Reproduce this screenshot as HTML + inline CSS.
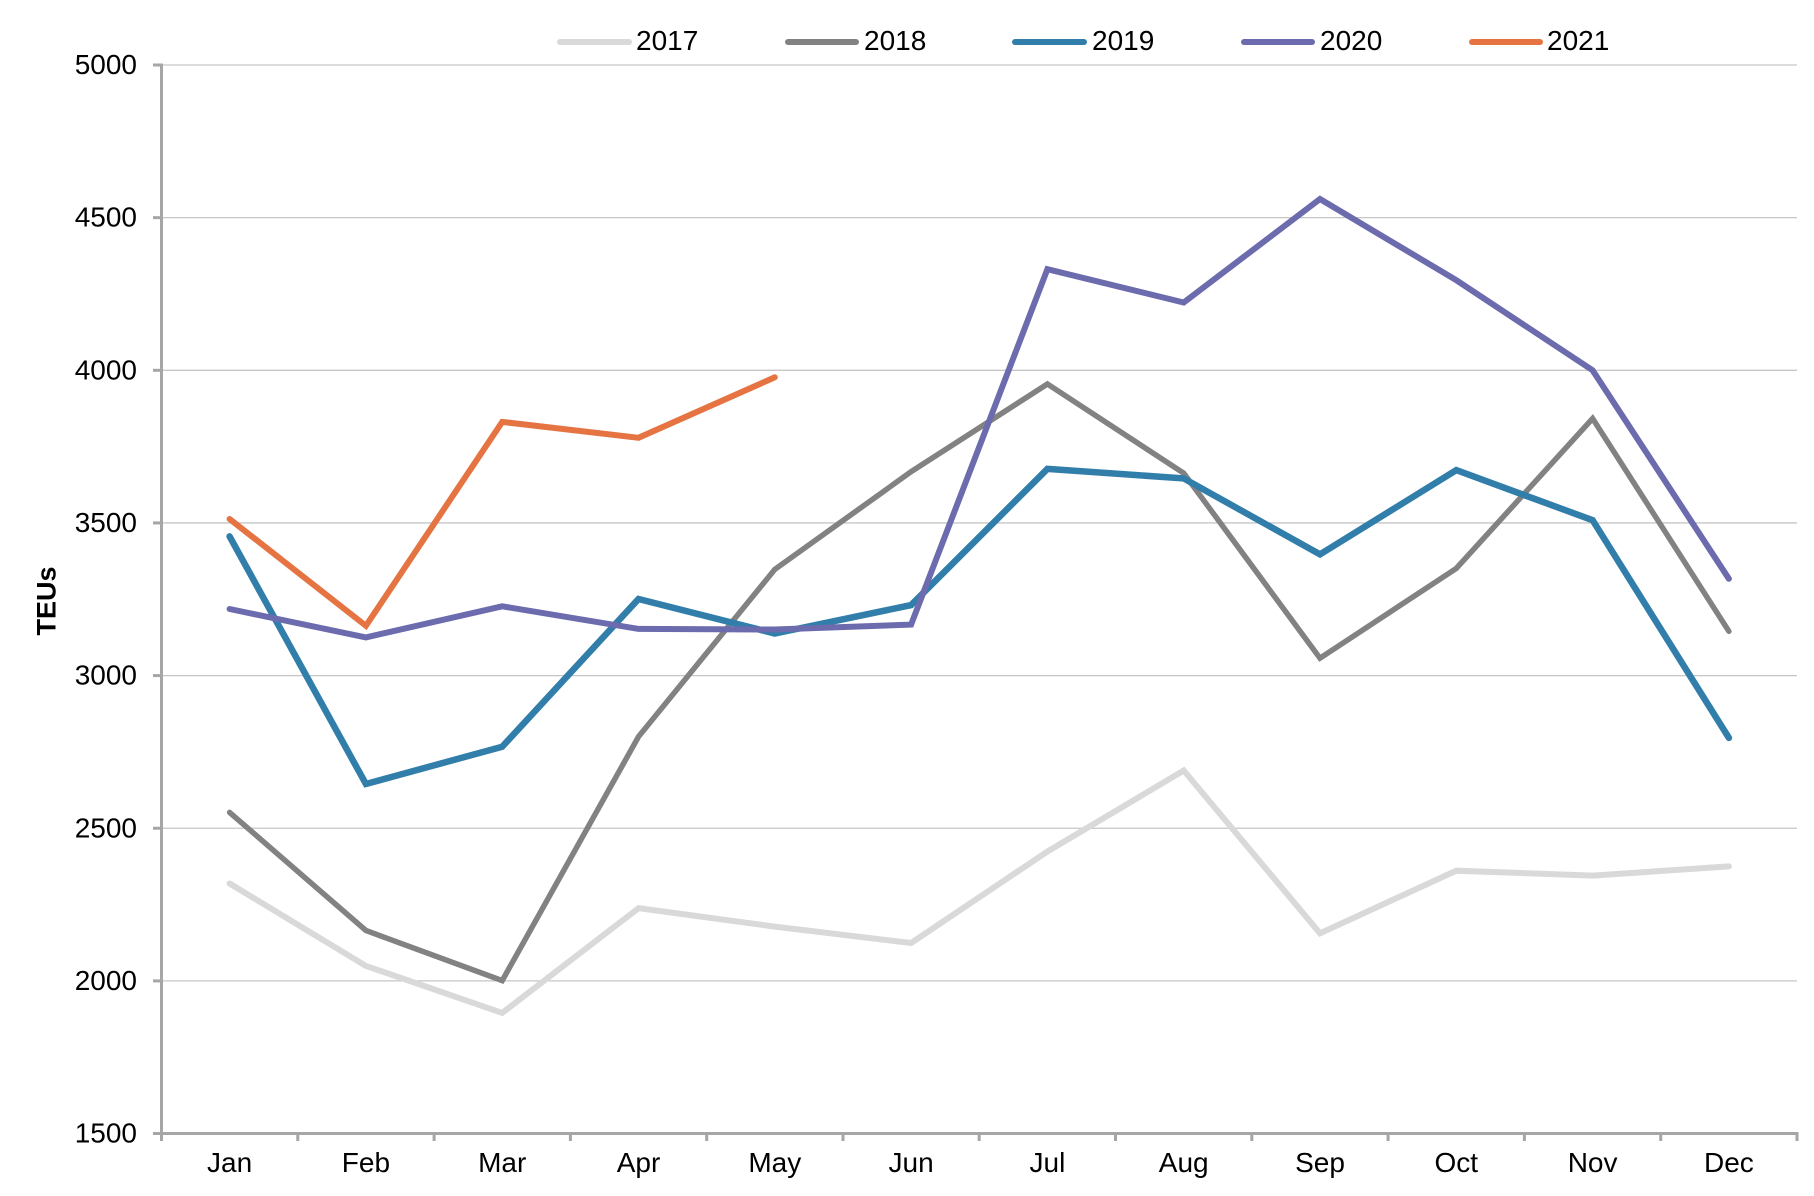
<!DOCTYPE html>
<html>
<head>
<meta charset="utf-8">
<style>
  html, body { margin: 0; padding: 0; background: #ffffff; }
  svg { display: block; }
  text { font-family: "Liberation Sans", "DejaVu Sans", sans-serif; fill: #000000; }
</style>
</head>
<body>
<svg width="1814" height="1196" viewBox="0 0 1814 1196" xmlns="http://www.w3.org/2000/svg">
  <rect x="0" y="0" width="1814" height="1196" fill="#ffffff"/>

  <!-- gridlines -->
  <g stroke="#c6c6c6" stroke-width="1.3">
    <line x1="161.5" y1="65" x2="1797" y2="65"/>
    <line x1="161.5" y1="217.65" x2="1797" y2="217.65"/>
    <line x1="161.5" y1="370.3" x2="1797" y2="370.3"/>
    <line x1="161.5" y1="522.95" x2="1797" y2="522.95"/>
    <line x1="161.5" y1="675.6" x2="1797" y2="675.6"/>
    <line x1="161.5" y1="828.25" x2="1797" y2="828.25"/>
    <line x1="161.5" y1="980.9" x2="1797" y2="980.9"/>
  </g>

  <!-- axes -->
  <g stroke="#a6a6a6" stroke-width="3" fill="none">
    <line x1="161.5" y1="63.5" x2="161.5" y2="1135"/>
    <line x1="160" y1="1133.5" x2="1798.5" y2="1133.5"/>
    <line x1="153" y1="65" x2="161.5" y2="65"/>
    <line x1="153" y1="217.65" x2="161.5" y2="217.65"/>
    <line x1="153" y1="370.3" x2="161.5" y2="370.3"/>
    <line x1="153" y1="522.95" x2="161.5" y2="522.95"/>
    <line x1="153" y1="675.6" x2="161.5" y2="675.6"/>
    <line x1="153" y1="828.25" x2="161.5" y2="828.25"/>
    <line x1="153" y1="980.9" x2="161.5" y2="980.9"/>
    <line x1="153" y1="1133.5" x2="161.5" y2="1133.5"/>
    <line x1="161.5" y1="1133.5" x2="161.5" y2="1141"/>
    <line x1="297.8" y1="1133.5" x2="297.8" y2="1141"/>
    <line x1="434.1" y1="1133.5" x2="434.1" y2="1141"/>
    <line x1="570.4" y1="1133.5" x2="570.4" y2="1141"/>
    <line x1="706.7" y1="1133.5" x2="706.7" y2="1141"/>
    <line x1="843.0" y1="1133.5" x2="843.0" y2="1141"/>
    <line x1="979.2" y1="1133.5" x2="979.2" y2="1141"/>
    <line x1="1115.5" y1="1133.5" x2="1115.5" y2="1141"/>
    <line x1="1251.8" y1="1133.5" x2="1251.8" y2="1141"/>
    <line x1="1388.1" y1="1133.5" x2="1388.1" y2="1141"/>
    <line x1="1524.4" y1="1133.5" x2="1524.4" y2="1141"/>
    <line x1="1660.7" y1="1133.5" x2="1660.7" y2="1141"/>
    <line x1="1797" y1="1133.5" x2="1797" y2="1141"/>
  </g>

  <!-- y tick labels -->
  <g font-size="28" text-anchor="end">
    <text x="137" y="74">5000</text>
    <text x="137" y="226.6">4500</text>
    <text x="137" y="379.3">4000</text>
    <text x="137" y="532">3500</text>
    <text x="137" y="684.6">3000</text>
    <text x="137" y="837.3">2500</text>
    <text x="137" y="990">2000</text>
    <text x="137" y="1142.5">1500</text>
  </g>

  <!-- x labels -->
  <g font-size="28" text-anchor="middle">
    <text x="229.6" y="1172">Jan</text>
    <text x="365.9" y="1172">Feb</text>
    <text x="502.2" y="1172">Mar</text>
    <text x="638.5" y="1172">Apr</text>
    <text x="774.8" y="1172">May</text>
    <text x="911.1" y="1172">Jun</text>
    <text x="1047.4" y="1172">Jul</text>
    <text x="1183.7" y="1172">Aug</text>
    <text x="1320.0" y="1172">Sep</text>
    <text x="1456.3" y="1172">Oct</text>
    <text x="1592.6" y="1172">Nov</text>
    <text x="1728.9" y="1172">Dec</text>
  </g>

  <!-- y axis title -->
  <text x="0" y="0" font-size="27" font-weight="bold" text-anchor="middle" transform="translate(55.5 601) rotate(-90)">TEUs</text>

  <!-- series -->
  <g fill="none" stroke-linecap="round" stroke-linejoin="miter" stroke-miterlimit="4">
    <polyline stroke="#d9d9d9" stroke-width="6"
      points="229.6,883.5 365.9,965.9 502.2,1012.9 638.5,908.2 774.8,926.6 911.1,943.0 1047.4,851.5 1183.7,770.5 1320.0,933.3 1456.3,870.7 1592.6,875.6 1728.9,866.4"/>
    <polyline stroke="#828282" stroke-width="5.5"
      points="229.6,812.4 365.9,930.5 502.2,980.6 638.5,736.7 774.8,569.4 911.1,471.7 1047.4,384.0 1183.7,473.2 1320.0,658.2 1456.3,568.4 1592.6,418.5 1728.9,631.3"/>
    <polyline stroke="#327eab" stroke-width="6.5"
      points="229.6,536.4 365.9,784.0 502.2,746.7 638.5,599.0 774.8,633.5 911.1,605.1 1047.4,468.9 1183.7,478.4 1320.0,554.4 1456.3,470.1 1592.6,520.2 1728.9,737.9"/>
    <polyline stroke="#6b6bad" stroke-width="6"
      points="229.6,609.0 365.9,637.4 502.2,606.3 638.5,628.9 774.8,629.5 911.1,624.6 1047.4,269.2 1183.7,302.5 1320.0,199.0 1456.3,280.2 1592.6,370.3 1728.9,578.8"/>
    <polyline stroke="#e57442" stroke-width="6"
      points="229.6,519.0 365.9,625.8 502.2,421.9 638.5,437.8 774.8,377.3"/>
  </g>

  <!-- legend -->
  <g stroke-width="6" stroke-linecap="round">
    <line x1="560" y1="42" x2="629" y2="42" stroke="#d9d9d9"/>
    <line x1="788" y1="42" x2="856" y2="42" stroke="#828282"/>
    <line x1="1015" y1="42" x2="1084" y2="42" stroke="#327eab"/>
    <line x1="1244" y1="42" x2="1312" y2="42" stroke="#6b6bad"/>
    <line x1="1472" y1="42" x2="1540" y2="42" stroke="#e57442"/>
  </g>
  <g font-size="28">
    <text x="636" y="50">2017</text>
    <text x="864" y="50">2018</text>
    <text x="1092" y="50">2019</text>
    <text x="1320" y="50">2020</text>
    <text x="1547" y="50">2021</text>
  </g>
</svg>
</body>
</html>
